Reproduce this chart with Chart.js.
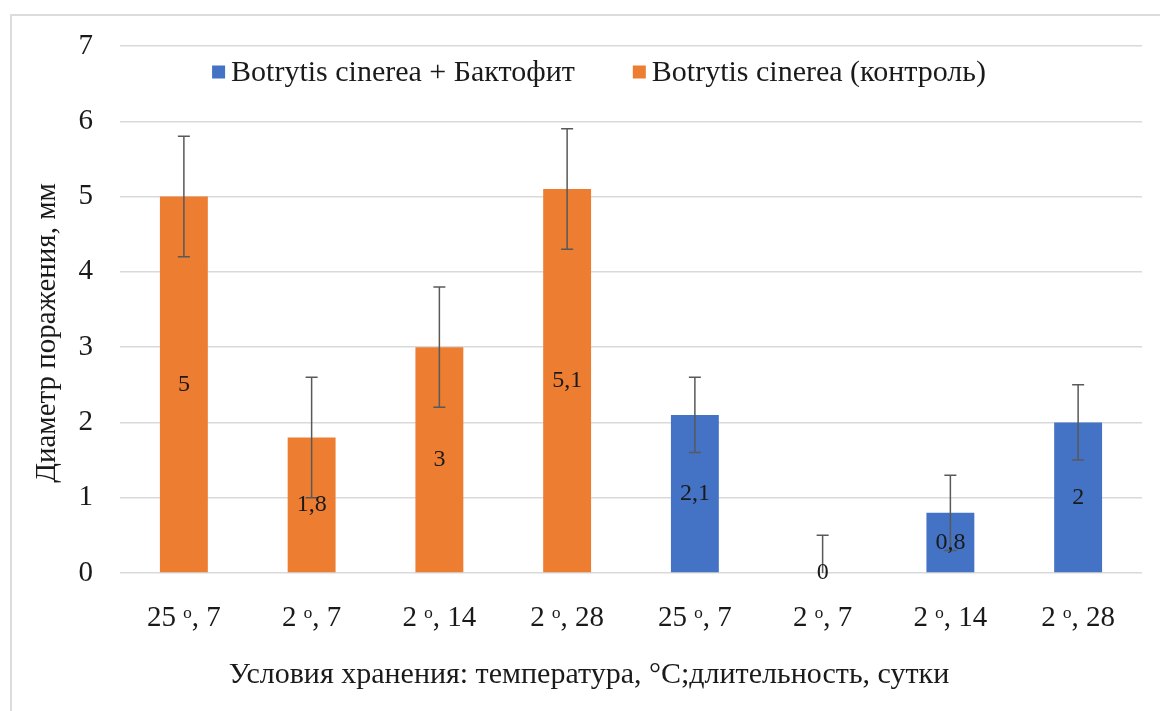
<!DOCTYPE html>
<html>
<head>
<meta charset="utf-8">
<script src="https://cdn.jsdelivr.net/npm/chart.js@4"></script>
<style>
  html, body { margin: 0; padding: 0; background: #fff; overflow: hidden; }
  #frame {
    position: absolute; left: 10px; top: 14px;
    width: 1300px; height: 900px;
    border: 2px solid #dcdcdc;
  }
  #chart { position: absolute; left: 0; top: 0; }
</style>
</head>
<body>
<div id="frame"></div>
<canvas id="chart" width="1160" height="711"></canvas>
<script>
// --- Data ---
const categories = ['25 ᵒ, 7', '2 ᵒ, 7', '2 ᵒ, 14', '2 ᵒ, 28', '25 ᵒ, 7', '2 ᵒ, 7', '2 ᵒ, 14', '2 ᵒ, 28'];
const seriesNames = ['Botrytis cinerea + Бактофит', 'Botrytis cinerea (контроль)'];
const bactofitValues = [null, null, null, null, 2.1, 0, 0.8, 2];
const controlValues = [5, 1.8, 3, 5.1, null, null, null, null];
const bactofitErrors = [null, null, null, null, 0.5, 0.5, 0.5, 0.5];
const controlErrors = [0.8, 0.8, 0.8, 0.8, null, null, null, null];
const yTicks = [0, 1, 2, 3, 4, 5, 6, 7];
const yTitle = 'Диаметр поражения, мм';
const xTitle = 'Условия хранения: температура, °С;длительность, сутки';

const BLUE = '#4472c4';
const ORANGE = '#ed7d31';
const TEXT = '#1a1a1a';
const FONT = '"Liberation Serif", "Times New Roman", serif';

const errorsByDataset = [bactofitErrors, controlErrors];

// error bars + value labels inside bars
const barExtras = {
    id: 'barExtras',
    afterDatasetsDraw(chart) {
        const ctx = chart.ctx;
        const y = chart.scales.y;
        const area = chart.chartArea;
        chart.data.datasets.forEach((ds, i) => {
            const meta = chart.getDatasetMeta(i);
            ds.data.forEach((v, j) => {
                if (v === null) return;
                const bar = meta.data[j];
                const err = errorsByDataset[i][j];
                // error bar
                if (err !== null) {
                    const top = y.getPixelForValue(v + err);
                    const bot = Math.min(y.getPixelForValue(v - err), area.bottom);
                    ctx.save();
                    ctx.strokeStyle = '#595959';
                    ctx.lineWidth = 1.5;
                    ctx.beginPath();
                    ctx.moveTo(bar.x, top);
                    ctx.lineTo(bar.x, bot);
                    ctx.moveTo(bar.x - 6, top);
                    ctx.lineTo(bar.x + 6, top);
                    if (v - err >= 0) {
                        ctx.moveTo(bar.x - 6, bot);
                        ctx.lineTo(bar.x + 6, bot);
                    }
                    ctx.stroke();
                    ctx.restore();
                }
                // value label
                ctx.save();
                ctx.fillStyle = TEXT;
                ctx.font = '24px ' + FONT;
                ctx.textAlign = 'center';
                ctx.textBaseline = 'middle';
                ctx.fillText(String(v).replace('.', ','), bar.x, (bar.y + bar.base) / 2);
                ctx.restore();
            });
        });
    }
};

// legend inside the plot + axis titles
const innerLegend = {
    id: 'innerLegend',
    afterDraw(chart) {
        const ctx = chart.ctx;
        ctx.save();
        ctx.font = '30px ' + FONT;
        ctx.textBaseline = 'middle';
        const box = 13, gapBox = 6, gapItem = 58;
        const widths = chart.data.datasets.map(ds => ctx.measureText(ds.label).width);
        let total = 0;
        widths.forEach((w, i) => { total += box + gapBox + w + (i > 0 ? gapItem : 0); });
        let x = 599 - total / 2;
        const cy = 72;
        chart.data.datasets.forEach((ds, i) => {
            ctx.fillStyle = ds.backgroundColor;
            ctx.fillRect(x, cy - box / 2, box, box);
            x += box + gapBox;
            ctx.fillStyle = TEXT;
            ctx.fillText(ds.label, x, cy + 1);
            x += widths[i] + gapItem;
        });

        // x title
        ctx.textAlign = 'center';
        ctx.fillText(xTitle, 589, 675);

        // y title, rotated
        ctx.font = '29px ' + FONT;
        ctx.translate(47, 333);
        ctx.rotate(-Math.PI / 2);
        ctx.fillText(yTitle, 0, 0);
        ctx.restore();
    }
};

new Chart(document.getElementById('chart'), {
    type: 'bar',
    data: {
        labels: categories,
        datasets: [
            {
                label: seriesNames[0],
                data: bactofitValues,
                backgroundColor: BLUE,
                categoryPercentage: 1,
                barPercentage: 0.375
            },
            {
                label: seriesNames[1],
                data: controlValues,
                backgroundColor: ORANGE,
                categoryPercentage: 1,
                barPercentage: 0.375
            }
        ]
    },
    options: {
        responsive: false,
        animation: false,
        layout: { padding: { left: 10, right: 18, top: 46, bottom: 0 } },
        plugins: {
            legend: { display: false },
            tooltip: { enabled: false }
        },
        scales: {
            x: {
                stacked: true,
                grid: { display: false },
                border: { display: false },
                ticks: {
                    color: TEXT,
                    font: { family: FONT, size: 29 },
                    padding: 20,
                    maxRotation: 0
                },
                afterFit(scale) { scale.height = 138; }
            },
            y: {
                stacked: true,
                min: 0,
                max: 7,
                afterBuildTicks(scale) { scale.ticks = yTicks.map(v => ({ value: v })); },
                grid: { color: '#d9d9d9', lineWidth: 1.5, drawTicks: false },
                border: { display: false },
                ticks: {
                    color: TEXT,
                    font: { family: FONT, size: 29 },
                    padding: 27
                },
                afterFit(scale) { scale.width = 110; }
            }
        }
    },
    plugins: [barExtras, innerLegend]
});
</script>
</body>
</html>
